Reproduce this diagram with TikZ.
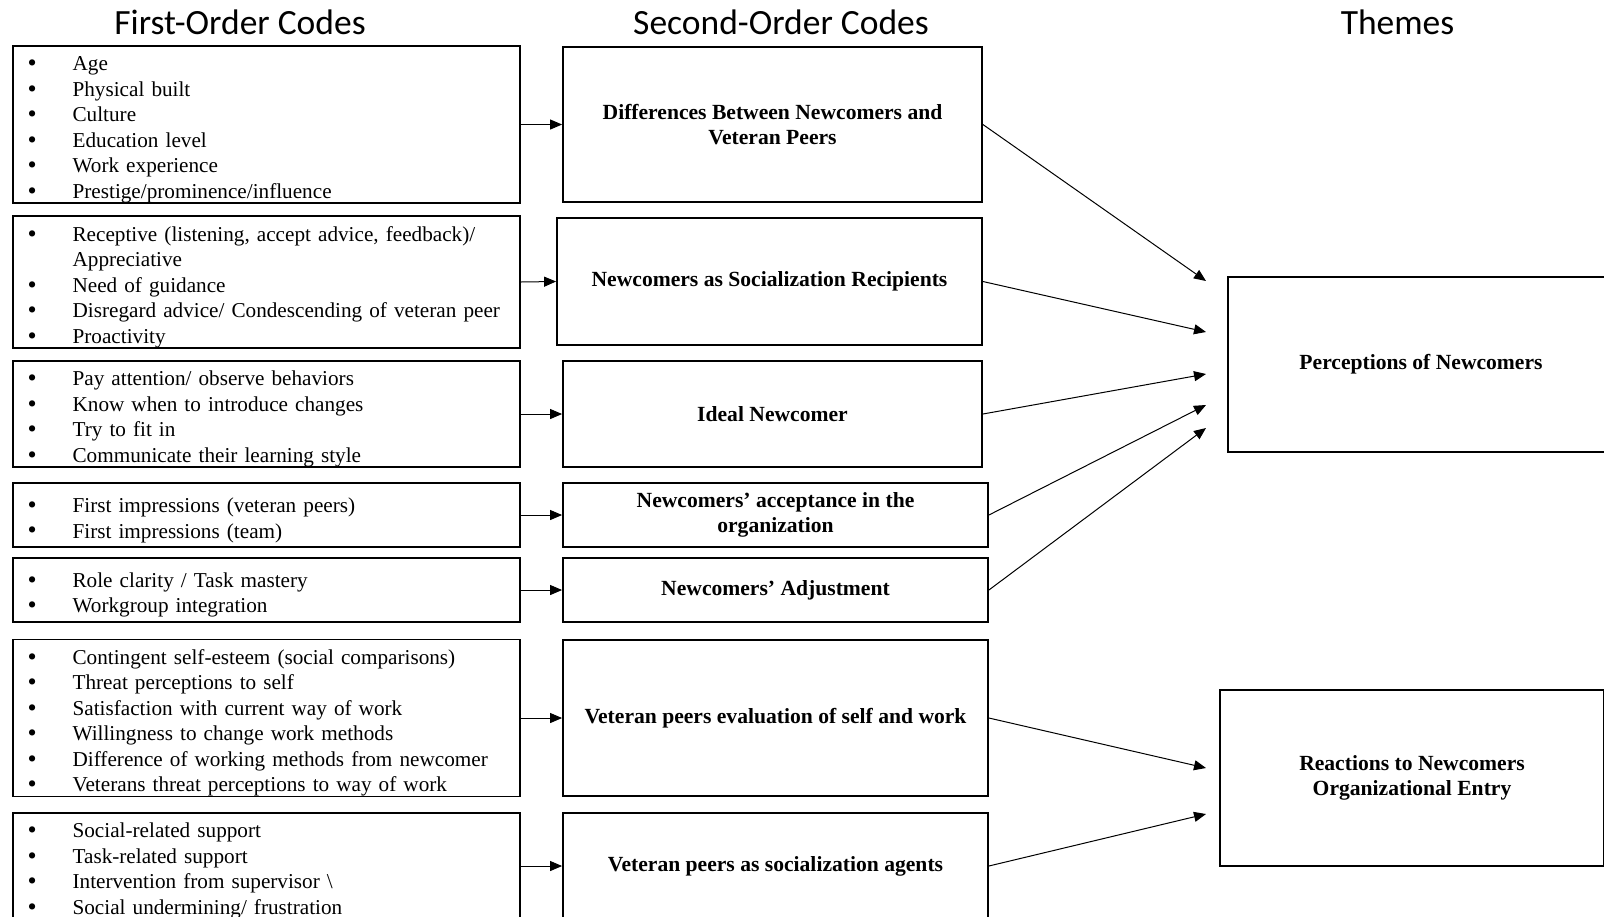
\documentclass[tikz,border=0pt]{standalone}
\usepackage{fontspec}
\setmainfont{Liberation Serif}
\newfontfamily\headfont{Carlito}
\usetikzlibrary{arrows.meta}
\newcommand{\itm}{\makebox[22.5pt][l]{\raisebox{-0.4pt}{\fontsize{13}{13}\selectfont\textbullet}}}
\newcommand{\cont}{\makebox[22.5pt][l]{}}
\tikzset{
  firstcode/.style={draw, line width=0.9pt, rectangle, inner xsep=7.5pt, inner ysep=0pt,
    text width=238.7pt, minimum width=253.7pt, align=left, font=\fontsize{10.6}{12.75}\selectfont,
    execute at begin node={\rule{0pt}{12.5pt}}},
  secondcode/.style={draw, line width=0.9pt, rectangle, inner sep=0pt, align=center,
    font=\fontsize{10.8}{12.5}\selectfont\bfseries},
  theme/.style={secondcode},
  heading/.style={anchor=base, font=\headfont\fontsize{17.75}{20}\selectfont},
  link/.style={line width=0.5pt, -{Triangle[length=6pt,width=5pt]}}
}
\begin{document}
\begin{tikzpicture}[x=0.5pt, y=-0.5pt]
                \useasboundingbox (0,0) rectangle (1604,916);

                \node[heading] (h1) at (240,34) {First-Order Codes};
                \node[heading] (h2) at (781,34) {Second-Order Codes};
                \node[heading] (h3) at (1397.5,34) {Themes};

                \node[firstcode, minimum height=77.5pt] (f1) at (266.3,124.5)
                  {\itm Age\\ \itm Physical built\\ \itm Culture\\ \itm Education level\\
                   \itm Work experience\\ \itm Prestige/prominence/influence};
                \node[firstcode, minimum height=64pt] (f2) at (266.3,282)
                  {\itm Receptive (listening, accept advice, feedback)/\\ \cont Appreciative\\
                   \itm Need of guidance\\ \itm Disregard advice/ Condescending of veteran peer\\
                   \itm Proactivity};
                \node[firstcode, minimum height=53pt] (f3) at (266.3,414)
                  {\itm Pay attention/ observe behaviors\\ \itm Know when to introduce changes\\
                   \itm Try to fit in\\ \itm Communicate their learning style};
                \node[firstcode, minimum height=32pt] (f4) at (266.3,515)
                  {\itm First impressions (veteran peers)\\ \itm First impressions (team)};
                \node[firstcode, minimum height=32pt] (f5) at (266.3,590)
                  {\itm Role clarity / Task mastery\\ \itm Workgroup integration};
                \node[firstcode, minimum height=78pt] (f6) at (266.3,718)
                  {\itm Contingent self-esteem (social comparisons)\\ \itm Threat perceptions to self\\
                   \itm Satisfaction with current way of work\\ \itm Willingness to change work methods\\
                   \itm Difference of working methods from newcomer\\
                   \itm Veterans threat perceptions to way of work};
                \node[firstcode, minimum height=53pt] (f7) at (266.3,866)
                  {\itm Social-related support\\ \itm Task-related support\\
                   \itm Intervention from supervisor \textbackslash\\ \itm Social undermining/ frustration};

                \node[secondcode, minimum width=209.5pt, minimum height=77.5pt] (s1) at (772.5,124.5)
                  {Differences Between Newcomers and\\ Veteran Peers};
                \node[secondcode, minimum width=212.5pt, minimum height=63.5pt] (s2) at (769.5,281.5)
                  {Newcomers as Socialization Recipients};
                \node[secondcode, minimum width=209.5pt, minimum height=53pt] (s3) at (772.5,414)
                  {Ideal Newcomer};
                \node[secondcode, minimum width=212.5pt, minimum height=32pt] (s4) at (775.5,515)
                  {Newcomers' acceptance in the\\ organization};
                \node[secondcode, minimum width=212.5pt, minimum height=32pt] (s5) at (775.5,590)
                  {Newcomers' Adjustment};
                \node[secondcode, minimum width=212.5pt, minimum height=78pt] (s6) at (775.5,718)
                  {Veteran peers evaluation of self and work};
                \node[secondcode, minimum width=212.5pt, minimum height=53pt] (s7) at (775.5,866)
                  {Veteran peers as socialization agents};

                \node[theme, minimum width=193pt, minimum height=87.5pt] (t1) at (1421,364.5)
                  {Perceptions of Newcomers};
                \node[theme, minimum width=192pt, minimum height=88pt] (t2) at (1412,778)
                  {Reactions to Newcomers\\ Organizational Entry};

                \coordinate (p1) at (1206,281);
                \coordinate (p2) at (1206,332);
                \coordinate (p3) at (1206,374);
                \coordinate (p4) at (1206,405);
                \coordinate (p5) at (1206,428);
                \coordinate (r1) at (1206,768);
                \coordinate (r2) at (1206,814);

                \draw[link] (f1.east) -- (s1.west);
                \draw[link] (f2.east) -- (s2.west);
                \draw[link] (f3.east) -- (s3.west);
                \draw[link] (f4.east) -- (s4.west);
                \draw[link] (f5.east) -- (s5.west);
                \draw[link] (f6.east) -- (s6.west);
                \draw[link] (f7.east) -- (s7.west);

                \draw[link] (s1.east) -- (p1);
                \draw[link] (s2.east) -- (p2);
                \draw[link] (s3.east) -- (p3);
                \draw[link] (s4.east) -- (p4);
                \draw[link] (s5.east) -- (p5);
                \draw[link] (s6.east) -- (r1);
                \draw[link] (s7.east) -- (r2);
\end{tikzpicture}
\end{document}
